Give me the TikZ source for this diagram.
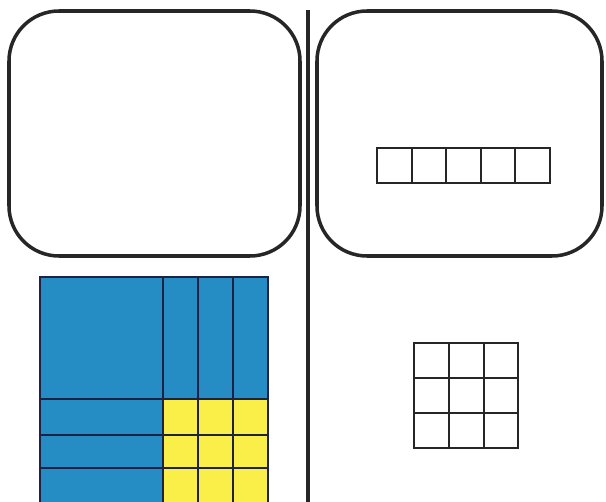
\documentclass[tikz,border=0pt]{standalone}
\usepackage{xcolor}
\usepackage{tikz}
\usetikzlibrary{positioning}

\definecolor{tileblue}{RGB}{38,140,196}
\definecolor{tileyellow}{RGB}{250,238,72}
\definecolor{tileline}{RGB}{30,35,70}

\begin{document}
\begin{tikzpicture}[x=0.03cm, y=-0.03cm,
    card/.style={draw=black!85, line width=3pt, rounded corners=1.5cm},
    cell/.style={draw=black!85, line width=1.8pt},
    tile/.style={draw=tileline, line width=1.6pt}
]
    \useasboundingbox (0,0) rectangle (606,502);
    \clip (0,0) rectangle (606,502);

    % Cards (top row)
    \draw[card] (9,11) rectangle (300,256);
    \draw[card] (317,11) rectangle (602,256);

    % Divider
    \draw[line width=2.6pt, black!85] (308,10) -- (308,505);

    % Strip of five cells
    \foreach \i in {0,...,4}
        \draw[cell] (377+34.6*\i,148) rectangle +(34.6,35);

    % Three by three grid
    \foreach \i in {0,1,2}
        \foreach \j in {0,1,2}
            \draw[cell] (414+34.8*\i,343+35*\j) rectangle +(34.8,35);

    % Tiles: big square, strips and small squares
    \fill[tileblue] (40,277) rectangle (268,505);
    \fill[tileyellow] (163,399) rectangle (268,505);
    \draw[tile] (40,277) rectangle (268,505);
    \foreach \x in {163,198,233}
        \draw[tile] (\x,277) -- (\x,505);
    \foreach \y in {399,435,468}
        \draw[tile] (40,\y) -- (268,\y);
\end{tikzpicture}
\end{document}
